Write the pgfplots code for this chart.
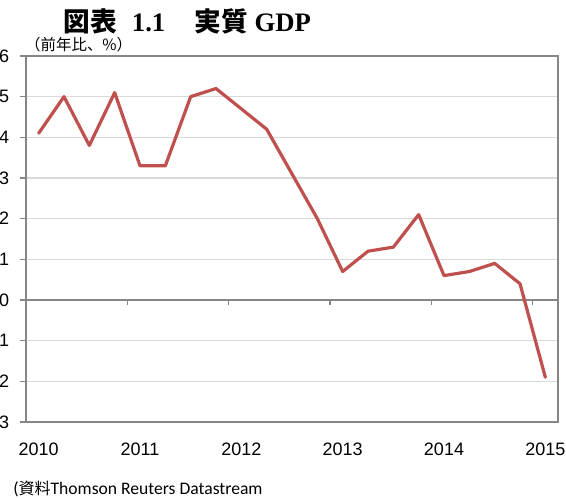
\documentclass[border=0pt]{standalone}
\usepackage{pgfplots}
\pgfplotsset{compat=1.18}
\usepackage{fontspec}
\setmainfont{Liberation Sans}
\newfontfamily\cjk{Noto Sans CJK JP}
\newfontfamily\tnr{Liberation Serif}
\newfontfamily\calib{Carlito}
\definecolor{gdpred}{RGB}{192,80,77}
\definecolor{gridg}{RGB}{217,217,217}
\definecolor{axg}{RGB}{134,134,134}
\begin{document}
\begin{tikzpicture}
\begin{axis}[name=ax, scale only axis, width=399pt, height=274.5pt,
  xmin=-0.5, xmax=20.5, ymin=-3, ymax=6,
  axis line style={draw=axg, line width=1.1pt},
  ytick={-3,...,6}, ymajorgrids, grid style={draw=gridg, line width=1.1pt},
  xtick={0,4,8,12,16,20}, xticklabels={2010,2011,2012,2013,2014,2015},
  x tick style={draw=none},
  y tick style={draw=axg, line width=1.1pt},
  tick align=outside, ytick pos=left, xtick pos=bottom,
  major tick length=4.5pt,
  tick label style={font=\fontsize{13.5}{14}\selectfont},
  /pgf/number format/assume math mode=true,
  yticklabel style={anchor=east, inner sep=0pt, xshift=-8pt},
  xticklabel style={anchor=north, inner sep=0pt, yshift=-11pt},
]
\end{axis}
\begin{axis}[scale only axis, width=399pt, height=274.5pt,
  xmin=-0.5, xmax=20.5, ymin=-3, ymax=6,
  axis x line=middle, axis y line=none,
  axis line style={-, draw=axg, line width=1.1pt},
  xtick={-0.5,3.5,7.5,11.5,15.5,19.5}, xticklabels={}, ytick=\empty,
  x tick style={draw=axg, line width=1.1pt},
  tick align=outside, major tick length=3.75pt,
]
\addplot[gdpred, line width=2.4pt, line join=round, line cap=round] coordinates {
(0,4.1) (1,5.0) (2,3.8) (3,5.1) (4,3.3) (5,3.3) (6,5.0) (7,5.2) (8,4.7) (9,4.2)
(10,3.1) (11,2.0) (12,0.7) (13,1.2) (14,1.3) (15,2.1) (16,0.6) (17,0.7) (18,0.9)
(19,0.4) (20,-1.9)};
\end{axis}
\node[anchor=base, inner sep=0pt] at ([shift={(121.1pt,292.5pt)}]ax.south west)
  {\fontsize{20}{21}\selectfont\bfseries{\cjk 図表}\hspace{11pt}{\tnr 1.1}\hspace{22pt}{\cjk 実質}\hspace{5pt}{\tnr GDP}};
\node[anchor=base, inner sep=0pt] at ([shift={(39.5pt,278.25pt)}]ax.south west)
  {\cjk\fontsize{11.6}{12}\selectfont （前年比、\%）};
\node[anchor=base west, inner sep=0pt] at ([shift={(-9.75pt,-54.75pt)}]ax.south west)
  {\fontsize{13.2}{14}\selectfont{\calib (}{\cjk\fontsize{12}{13}\selectfont 資料}{\calib Thomson Reuters Datastream}};
\pgfresetboundingbox
\path[use as bounding box] ([shift={(-19.5pt,-57pt)}]ax.south west) rectangle ([shift={(405pt,316.5pt)}]ax.south west);
\end{tikzpicture}
\end{document}
